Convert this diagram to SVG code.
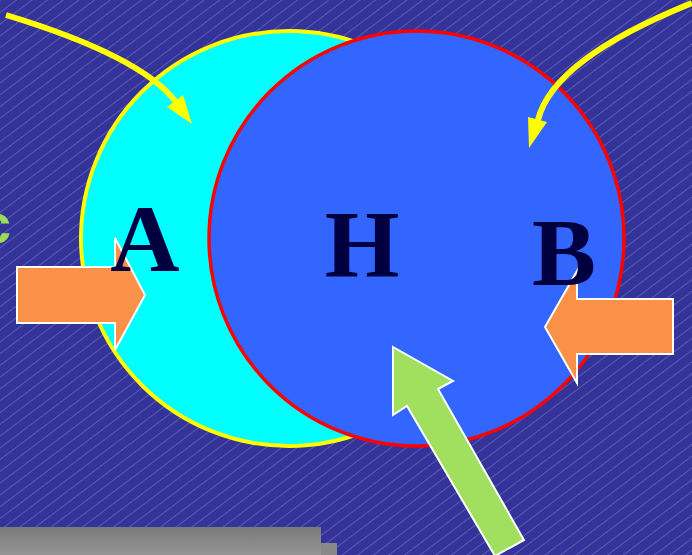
<svg xmlns="http://www.w3.org/2000/svg" width="692" height="555" viewBox="0 0 692 555">
<defs>
<pattern id="hatch" patternUnits="userSpaceOnUse" width="20" height="9.4" patternTransform="rotate(-37)">
<rect width="20" height="9.4" fill="#333399"/>
<line x1="0" y1="0.5" x2="20" y2="0.5" stroke="#6c6cbc" stroke-width="0.7"/>
</pattern>
<linearGradient id="gray" x1="0" y1="0" x2="0" y2="1">
<stop offset="0" stop-color="#7a7a7a"/>
<stop offset="1" stop-color="#959595"/>
</linearGradient>
<style>
.curve{fill:none;stroke:#ffff00;stroke-width:6}
.head{fill:#ffff00}
.block{fill:#f99148;stroke:#ffffff;stroke-width:2}
.lbl{font-family:"Liberation Serif","Times New Roman",serif;font-weight:bold;font-size:96px;fill:#000040;text-anchor:middle}
</style>
</defs>
<rect width="692" height="555" fill="url(#hatch)"/>
<text x="-20" y="243" font-family="Liberation Sans, sans-serif" font-weight="bold" font-size="56" fill="#99dd55">c</text>
<g id="footer">
<rect x="0" y="527" width="321" height="28" fill="url(#gray)"/>
<rect x="321" y="543" width="16" height="12" fill="#888888"/>
</g>
<g id="A">
<ellipse cx="289" cy="238.5" rx="208" ry="207.5" fill="#00ffff" stroke="#ffff00" stroke-width="4"/>
</g>
<g id="B">
<ellipse cx="416.5" cy="238.5" rx="207.5" ry="207.5" fill="#3366ff" stroke="#ff0000" stroke-width="3.5"/>
</g>
<g id="connectors">
<path class="curve" d="M6,15 Q141,56 176,102"/>
<polygon class="head" points="192,124 167,107 183,95"/>
<path class="curve" d="M692,3 Q553,59 538,120"/>
<polygon class="head" points="529,148 528,117 547,122"/>
<polygon class="block" points="17,267 115,267 115,238 145,295 115,350 115,323 17,323"/>
<polygon class="block" points="673,299 577,299 577,271 545,327 577,383 577,354 673,354"/>
<polygon fill="#a0e05e" stroke="#ffffff" stroke-width="2" points="393,347 453,381 438,389 524,540 495,556 407,406 393,415"/>
</g>
<g id="labels">
<text class="lbl" x="145" y="271">A</text>
<text class="lbl" x="362" y="277">H</text>
<text class="lbl" x="564" y="285">B</text>
</g>
</svg>
